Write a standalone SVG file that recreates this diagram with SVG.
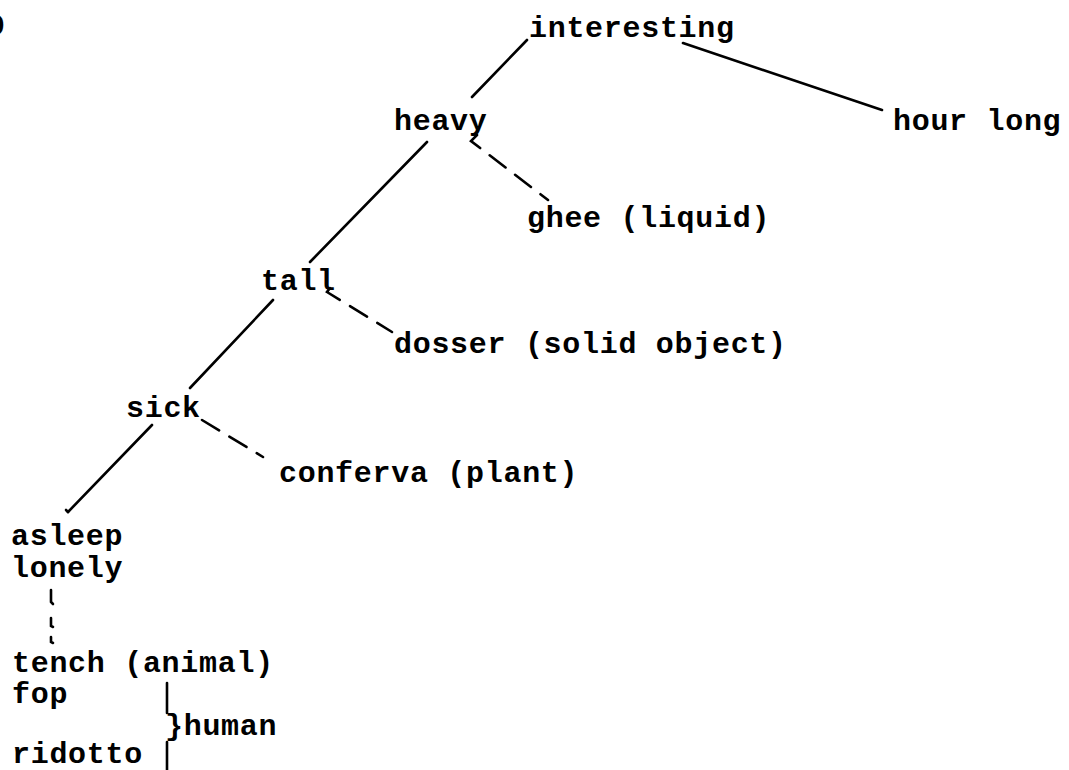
<svg xmlns="http://www.w3.org/2000/svg" width="1069" height="770" viewBox="0 0 1069 770">
<style>
text{font-family:"Liberation Mono","Courier New",monospace;font-weight:bold;font-size:30px;letter-spacing:0.7px;fill:#000}
.s{stroke:#000;stroke-width:2.6;fill:none;stroke-linecap:round}
.d{stroke:#000;stroke-width:2.6;fill:none;stroke-linecap:round;stroke-dasharray:20 12}
</style>
<rect width="1069" height="770" fill="#fff"/>
<text x="-13" y="35">9</text>
<g id="connectors">
<line class="s" x1="527" y1="40" x2="472" y2="97"/>
<line class="s" x1="683" y1="43" x2="882" y2="110"/>
<line class="s" x1="427" y1="142" x2="310" y2="262"/>
<path class="d" d="M477,135 L471,141 L548,200"/>
<line class="s" x1="273" y1="300" x2="190" y2="388"/>
<path class="d" d="M330,288 L327,292 L392,332"/>
<line class="s" x1="152" y1="425" x2="68" y2="512"/>
<path class="s" d="M68,512 L66,510"/>
<path class="d" d="M202,420 L263,457"/>
<path class="s" d="M51,590 L51,602 L53,604"/>
<path class="s" d="M51,618 L51,626 L53,627"/>
<path class="s" d="M51,637 L51,642 L53,643"/>
<line class="s" x1="167" y1="683" x2="167" y2="713"/>
<line class="s" x1="167" y1="742" x2="167" y2="770"/>
</g>
<g id="interesting"><text x="529" y="37">interesting</text></g>
<g id="hour-long"><text x="893" y="130">hour long</text></g>
<g id="heavy"><text x="394" y="130">heavy</text></g>
<g id="ghee"><text x="527" y="227">ghee (liquid)</text></g>
<g id="tall"><text x="261" y="290">tall</text></g>
<g id="dosser"><text x="394" y="353">dosser (solid object)</text></g>
<g id="sick"><text x="126" y="417">sick</text></g>
<g id="conferva"><text x="279" y="482">conferva (plant)</text></g>
<g id="asleep"><text x="11" y="545">asleep</text><text x="11" y="577">lonely</text></g>
<g id="tench"><text x="12" y="672">tench (animal)</text></g>
<g id="fop"><text x="12" y="703">fop</text></g>
<g id="human"><text x="165" y="735">}human</text></g>
<g id="ridotto"><text x="12" y="763">ridotto</text></g>
</svg>
